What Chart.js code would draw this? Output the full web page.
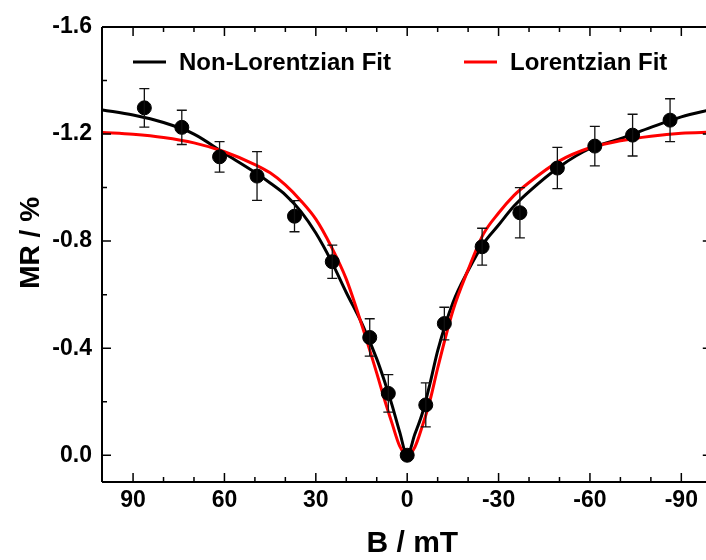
<!DOCTYPE html>
<html lang="en">
  <head>
    <meta charset="UTF-8" />
    <title>MR vs B - Lorentzian / Non-Lorentzian fits</title>
    <script src="https://cdn.jsdelivr.net/npm/chart.js"></script>
    <style>
      html, body {
        margin: 0;
        padding: 0;
        background: #fff;
        overflow: hidden;
      }
      canvas {
        display: block;
      }
    </style>
  </head>
  <body>
    <canvas id="mrChart" width="706" height="560"></canvas>

    <script>
      // Measured points (B in mT, MR in %)
      const fieldB = [86.3, 74.0, 61.6, 49.3, 37.0, 24.6, 12.3, 6.2, 0, -6.1, -12.2, -24.6, -37.0, -49.3, -61.6, -74.0, -86.3];
      const mrMeasured = [-1.298, -1.225, -1.115, -1.043, -0.893, -0.723, -0.44, -0.231, 0, -0.188, -0.492, -0.779, -0.906, -1.073, -1.155, -1.196, -1.252];
      const mrError = [0.072, 0.064, 0.057, 0.091, 0.058, 0.062, 0.07, 0.07, 0, 0.082, 0.061, 0.069, 0.094, 0.077, 0.074, 0.078, 0.08];

      // Fit curves
      const fitB = [100, 90, 80, 70, 60, 50, 45, 40, 35, 30, 25, 20, 15, 10, 7.5, 5, 2.5, 0,
                    -2.5, -5, -7.5, -10, -15, -20, -25, -30, -35, -40, -50, -60, -70, -80, -90, -100];
      const nonLorentzFit = [-1.29, -1.271, -1.243, -1.2, -1.128, -1.057, -1.017, -0.973, -0.912, -0.83, -0.727, -0.608, -0.495, -0.36, -0.278, -0.188, -0.088, 0,
                             -0.078, -0.158, -0.268, -0.39, -0.57, -0.69, -0.79, -0.86, -0.93, -0.985, -1.078, -1.146, -1.183, -1.225, -1.264, -1.292];
      const lorentzFit = [-1.206, -1.199, -1.187, -1.167, -1.134, -1.086, -1.055, -1.01, -0.952, -0.882, -0.781, -0.658, -0.49, -0.307, -0.21, -0.12, -0.035, 0,
                          -0.03, -0.11, -0.205, -0.325, -0.54, -0.693, -0.826, -0.905, -0.97, -1.019, -1.1, -1.149, -1.175, -1.192, -1.203, -1.207];

      // Axis ticks; the plot box runs to B = -100 but the picture is cut just short of it
      const xTicks = [90, 60, 30, 0, -30, -60, -90];
      const yTicks = [-1.6, -1.2, -0.8, -0.4, 0.0];
      const xBoxEdge = -100;

      Chart.defaults.font.family = "'Liberation Sans', Arial, sans-serif";
      Chart.defaults.color = "#000";

      const toXY = (xs, ys) => xs.map((x, i) => ({ x: x, y: ys[i] }));

      // error bars on the measured points
      const errorBars = {
        id: "errorBars",
        afterDatasetsDraw(chart) {
          const { ctx, scales } = chart;
          const xs = scales.x, ys = scales.y;
          ctx.save();
          ctx.strokeStyle = "#111";
          ctx.lineWidth = 1.3;
          fieldB.forEach((b, i) => {
            if (!mrError[i]) return;
            const px = xs.getPixelForValue(b);
            const y1 = ys.getPixelForValue(mrMeasured[i] - mrError[i]);
            const y2 = ys.getPixelForValue(mrMeasured[i] + mrError[i]);
            ctx.beginPath();
            ctx.moveTo(px, y1); ctx.lineTo(px, y2);
            ctx.moveTo(px - 5, y1); ctx.lineTo(px + 5, y1);
            ctx.moveTo(px - 5, y2); ctx.lineTo(px + 5, y2);
            ctx.stroke();
          });
          ctx.restore();
        },
      };

      // box axes with inward ticks + legend inside the plot
      const frame = {
        id: "frame",
        afterDraw(chart) {
          const { ctx, chartArea: a, scales } = chart;
          const xs = scales.x, ys = scales.y;
          const right = xs.getPixelForValue(xBoxEdge);
          ctx.save();
          ctx.strokeStyle = "#000";
          ctx.lineWidth = 2;
          ctx.beginPath();
          ctx.moveTo(a.left, a.top); ctx.lineTo(right, a.top);
          ctx.moveTo(a.left, a.bottom); ctx.lineTo(right, a.bottom);
          ctx.moveTo(a.left, a.top); ctx.lineTo(a.left, a.bottom);
          ctx.moveTo(right, a.top); ctx.lineTo(right, a.bottom);
          ctx.stroke();

          ctx.lineWidth = 1.5;
          ctx.beginPath();
          for (let v = -90; v <= 90; v += 10) {
            const px = xs.getPixelForValue(v);
            const len = xTicks.includes(v) ? 9 : 5;
            ctx.moveTo(px, a.bottom); ctx.lineTo(px, a.bottom - len);
            ctx.moveTo(px, a.top); ctx.lineTo(px, a.top + len);
          }
          for (let k = -14; k <= 0; k += 2) {
            const py = ys.getPixelForValue(k / 10);
            const len = k % 4 === 0 ? 9 : 5;
            ctx.moveTo(a.left, py); ctx.lineTo(a.left + len, py);
            ctx.moveTo(right, py); ctx.lineTo(right - len, py);
          }
          ctx.stroke();

          // legend
          const items = [chart.data.datasets[0], chart.data.datasets[1]];
          const offsets = [31, 362];
          const ly = a.top + 35;
          ctx.font = "bold 24px 'Liberation Sans', Arial, sans-serif";
          ctx.textBaseline = "middle";
          ctx.fillStyle = "#000";
          items.forEach((ds, i) => {
            const lx = a.left + offsets[i];
            ctx.strokeStyle = ds.borderColor;
            ctx.lineWidth = 3;
            ctx.beginPath();
            ctx.moveTo(lx, ly); ctx.lineTo(lx + 33, ly);
            ctx.stroke();
            ctx.fillText(ds.label, lx + 46, ly + 1);
          });
          ctx.restore();
        },
      };

      const ctx = document.getElementById("mrChart").getContext("2d");
      new Chart(ctx, {
        type: "scatter",
        data: {
          datasets: [
            {
              label: "Non-Lorentzian Fit",
              data: toXY(fitB, nonLorentzFit),
              showLine: true,
              borderColor: "#000000",
              borderWidth: 3,
              pointRadius: 0,
              cubicInterpolationMode: "monotone",
              order: 2,
            },
            {
              label: "Lorentzian Fit",
              data: toXY(fitB, lorentzFit),
              showLine: true,
              borderColor: "#ff0000",
              borderWidth: 3,
              pointRadius: 0,
              cubicInterpolationMode: "monotone",
              order: 1,
            },
            {
              label: "MR",
              data: toXY(fieldB, mrMeasured),
              showLine: false,
              backgroundColor: "#000",
              borderColor: "#000",
              pointRadius: 7,
              order: 0,
            },
          ],
        },
        options: {
          responsive: false,
          animation: false,
          layout: {
            autoPadding: false,
            padding: { top: 27, right: 0, left: 0, bottom: 0 },
          },
          plugins: {
            legend: { display: false },
            tooltip: { enabled: false },
          },
          scales: {
            x: {
              type: "linear",
              reverse: true,
              min: -98.1,
              max: 100.2,
              afterBuildTicks: (s) => { s.ticks = xTicks.map((v) => ({ value: v })); },
              afterFit: (s) => {
                s.height = 78;
                s.paddingLeft = 0;
                s.paddingRight = 0;
              },
              grid: { display: false, drawTicks: false },
              border: { display: false },
              ticks: {
                padding: 5,
                font: { size: 23, weight: "bold" },
                callback: (v) => String(v),
              },
              title: {
                display: true,
                text: "  B / mT",
                font: { size: 30, weight: "bold", lineHeight: 1 },
                padding: { top: 0, bottom: 1 },
              },
            },
            y: {
              type: "linear",
              reverse: true,
              min: -1.6,
              max: 0.1,
              afterBuildTicks: (s) => { s.ticks = yTicks.map((v) => ({ value: v })); },
              afterFit: (s) => { s.width = 102; },
              grid: { display: false, drawTicks: false },
              border: { display: false },
              ticks: {
                padding: 10,
                font: { size: 23, weight: "bold" },
                callback: (v) => Number(v).toFixed(1),
              },
              title: {
                display: true,
                text: "   MR / %",
                font: { size: 28, weight: "bold", lineHeight: 1.2 },
                padding: { top: 14, bottom: 0 },
              },
            },
          },
        },
        plugins: [errorBars, frame],
      });
    </script>
  </body>
</html>
